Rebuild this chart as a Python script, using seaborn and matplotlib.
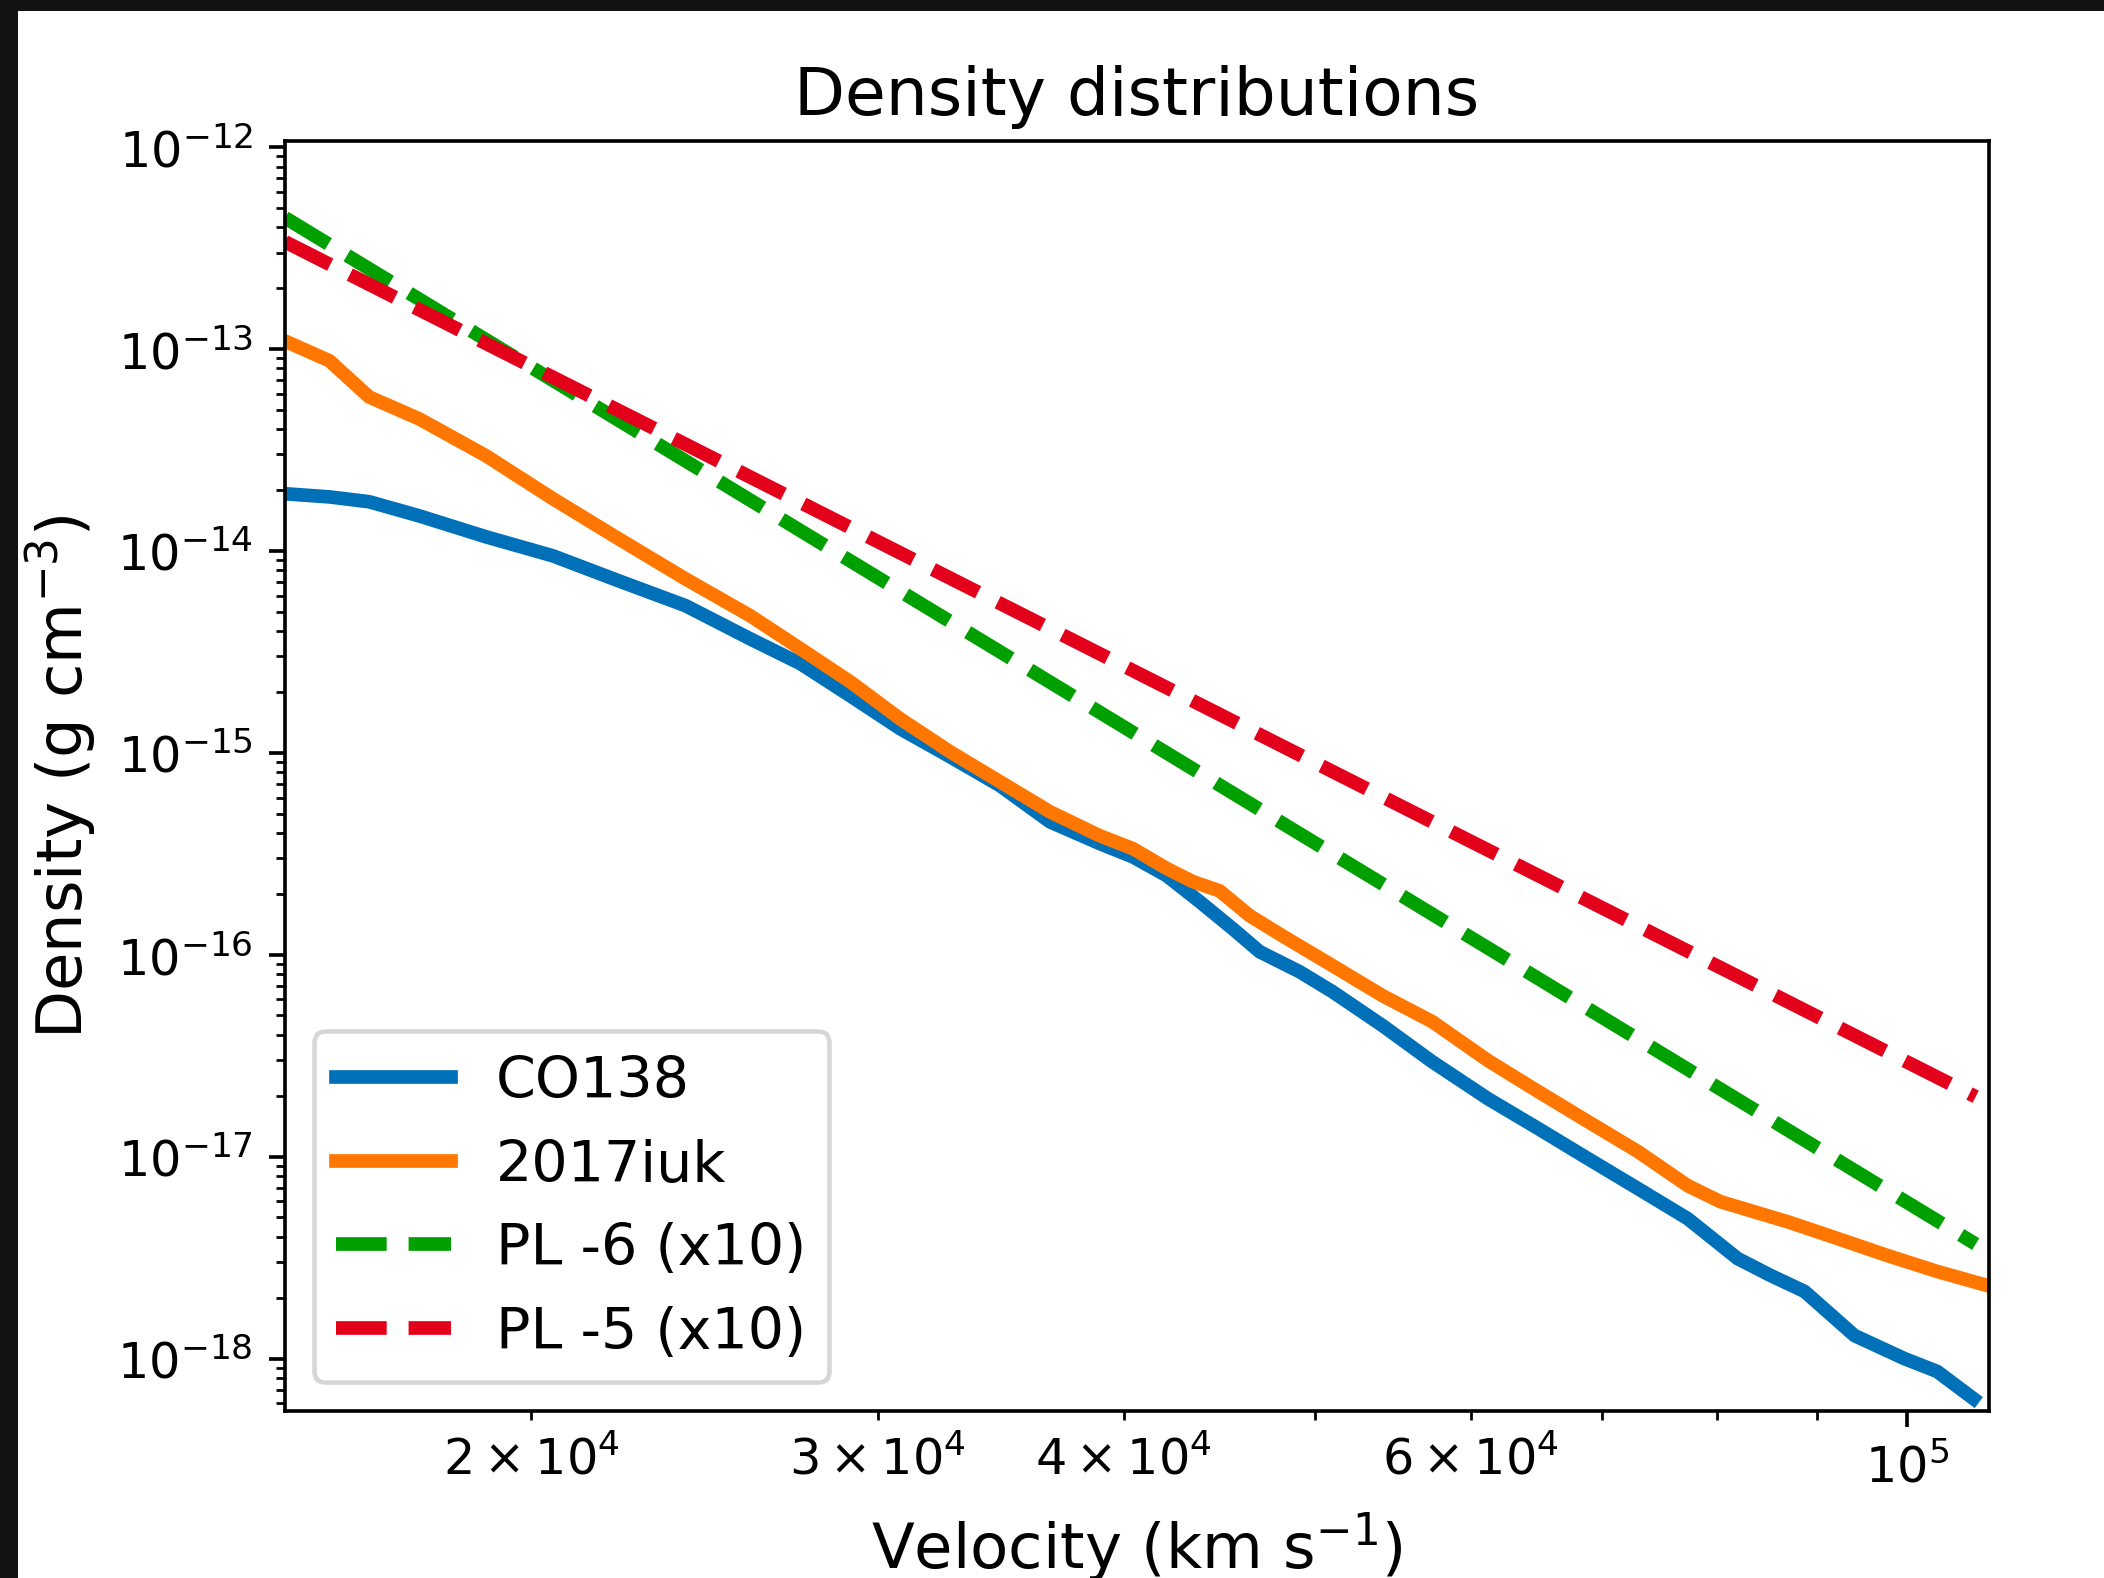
import numpy as np
import pandas as pd
import matplotlib
matplotlib.use("Agg")
import matplotlib.pyplot as plt
from matplotlib.patches import Rectangle
import seaborn as sns

# ---------------- data ----------------
co138_v = [15030, 15800, 16550, 17550, 18980, 20520, 22160, 23960, 25850, 27410,
           29060, 30800, 32650, 34610, 36690, 38890, 40430, 42060, 43710, 45430,
           46880, 49120, 51050, 54120, 57370, 61230, 64940, 68830, 72960, 77340,
           81980, 85210, 88660, 93990, 99630, 103540, 108000]
co138_rho = [1.914e-14, 1.849e-14, 1.750e-14, 1.489e-14, 1.172e-14, 9.44e-15, 7.10e-15,
             5.35e-15, 3.66e-15, 2.76e-15, 1.91e-15, 1.315e-15, 9.55e-16, 6.87e-16,
             4.55e-16, 3.55e-16, 3.05e-16, 2.46e-16, 1.83e-16, 1.345e-16, 1.035e-16,
             8.24e-17, 6.56e-17, 4.46e-17, 2.95e-17, 1.936e-17, 1.377e-17, 9.77e-18,
             6.95e-18, 4.93e-18, 3.13e-18, 2.58e-18, 2.15e-18, 1.30e-18, 1.00e-18,
             8.63e-19, 6.34e-19]

iuk_v = [15030, 15800, 16550, 17550, 18980, 20520, 22160, 23960, 25850, 27410,
         29060, 30800, 32650, 34610, 36690, 38890, 40430, 42060, 43360, 44740,
         46340, 48150, 51050, 54120, 57370, 61230, 64940, 68830, 72960, 77340,
         80370, 86920, 92150, 97660, 103540, 109780]
iuk_rho = [1.084e-13, 8.73e-14, 5.78e-14, 4.50e-14, 2.95e-14, 1.81e-14, 1.146e-14,
           7.26e-15, 4.76e-15, 3.27e-15, 2.24e-15, 1.47e-15, 1.01e-15, 7.18e-16,
           5.10e-16, 3.88e-16, 3.35e-16, 2.67e-16, 2.30e-16, 2.07e-16, 1.56e-16,
           1.24e-16, 8.83e-17, 6.27e-17, 4.66e-17, 2.99e-17, 2.10e-17, 1.49e-17,
           1.06e-17, 7.18e-18, 5.98e-18, 4.76e-18, 3.93e-18, 3.24e-18, 2.70e-18,
           2.30e-18]

pl6_v = [15000, 108300]
pl6_rho = [4.46e-13, 3.69e-18]
pl5_v = [15000, 108300]
pl5_rho = [3.39e-13, 1.98e-17]

labels = ["CO138", "2017iuk", "PL -6 (x10)", "PL -5 (x10)"]
colors = ["#0070b8", "#ff7700", "#00a000", "#e2001a"]
styles = ["-", "-", "--", "--"]

# ---------------- figure ----------------
plt.rcParams["font.family"] = ["DejaVu Sans"]
plt.rcParams["font.size"] = 12
plt.rcParams["xtick.labelsize"] = 10.8
plt.rcParams["ytick.labelsize"] = 10.8

DPI = 328.75
fig = plt.figure(figsize=(2104 / DPI, 1579 / DPI), dpi=DPI)
fig.patch.set_facecolor("#121212")
fig.patches.append(Rectangle((18 / 2104, 0), 1 - 18 / 2104, 1 - 12 / 1579,
                             transform=fig.transFigure, facecolor="white",
                             edgecolor="none", zorder=-10))
fig.subplots_adjust(left=285 / 2104, right=1989 / 2104,
                    bottom=1 - 1412 / 1579, top=1 - 142 / 1579)
ax = fig.add_subplot(111)
ax.set_facecolor("white")

series = [(co138_v, co138_rho), (iuk_v, iuk_rho), (pl6_v, pl6_rho), (pl5_v, pl5_rho)]
for (v, rho), lab, col, ls in zip(series, labels, colors, styles):
    df = pd.DataFrame({"v": v, "rho": rho})
    sns.lineplot(data=df, x="v", y="rho", ax=ax, color=col, linestyle=ls,
                 linewidth=3, label=lab, errorbar=None, sort=False)

ax.set_xscale("log")
ax.set_yscale("log")
ax.set_xlim(1.5e4, 1.1e5)
ax.set_ylim(5.5e-19, 1.07e-12)

ax.set_title("Density distributions", fontsize=14.5)
ax.set_xlabel("Velocity (km s$^{-1}$)", fontsize=13.7)
ax.set_ylabel("Density (g cm$^{-3}$)", fontsize=13.7)
ax.legend(loc="lower left", fontsize=12.5)

fig.savefig("out.png", dpi=DPI, facecolor=fig.get_facecolor())
